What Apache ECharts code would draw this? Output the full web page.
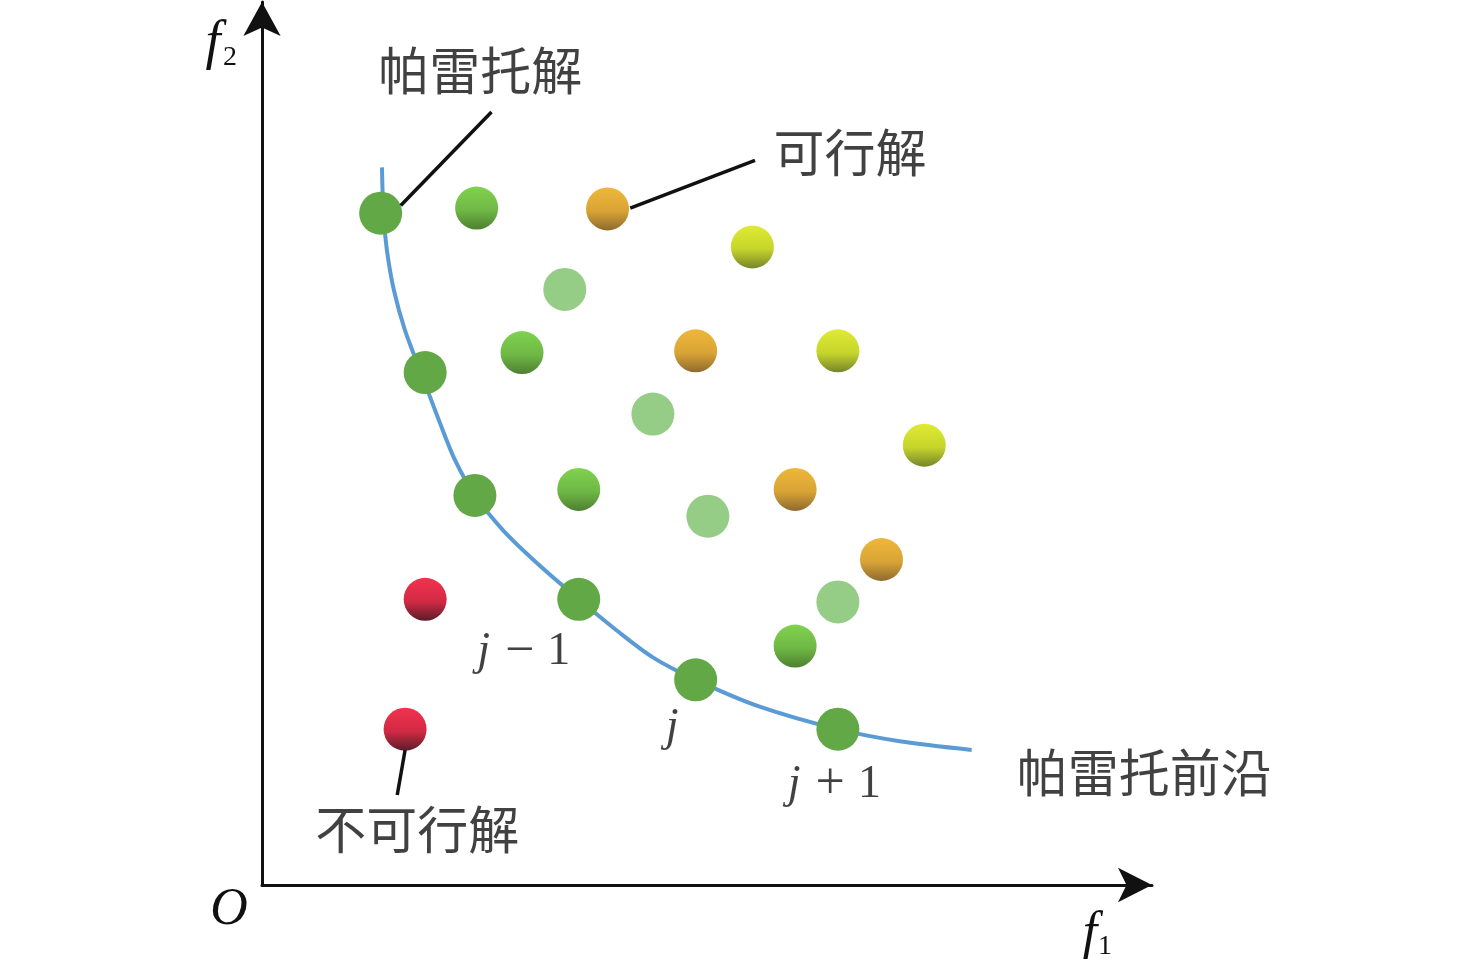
<!DOCTYPE html>
<html>
<head>
<meta charset="utf-8">
<script src="https://cdn.jsdelivr.net/npm/echarts@6/dist/echarts.min.js"></script>
<style>
html,body{margin:0;padding:0;background:#fff;}
#chart{width:1476px;height:974px;}
</style>
</head>
<body>
<div id="chart"></div>
<script>
// ---- data (abstract f1 / f2 units) ----
const axisMax     = 10.2;
const paretoPts   = [[1.36,7.76],[1.87,5.92],[2.44,4.50],[3.63,3.30],[4.97,2.37],[6.60,1.80]];
const greenPts    = [[2.46,7.82],[2.98,6.15],[3.63,4.57],[6.11,2.76]];
const lightPts    = [[3.47,6.88],[4.48,5.44],[5.11,4.26],[6.60,3.27]];
const orangePts   = [[3.96,7.81],[4.97,6.17],[6.11,4.57],[7.10,3.76]];
const yellowPts   = [[5.62,7.37],[6.60,6.17],[7.59,5.08]];
const redPts      = [[1.87,3.30],[1.64,1.80]];
const frontCurve  = [[1.375,8.29],[1.392,7.76],[1.432,7.33],[1.512,6.87],[1.638,6.41],[1.821,5.92],[2.027,5.37],
                     [2.211,4.91],[2.44,4.50],[2.761,4.10],[3.15,3.72],[3.631,3.30],[4.066,2.94],[4.479,2.63],
                     [4.971,2.37],[5.704,2.06],[6.598,1.80],[7.308,1.66],[8.133,1.56]];
const leaderLines = [[[1.59,7.85],[2.63,8.93]],[[4.22,7.82],[5.65,8.37]],[[1.64,1.56],[1.55,1.04]]];
const cnLabels    = [
  {name:'帕雷托解', value:[2.50,9.41]},
  {name:'可行解', value:[6.74,8.46]},
  {name:'帕雷托前沿', value:[10.11,1.30]},
  {name:'不可行解', value:[1.78,0.64]}
];
const mathLabels  = [
  {name:'{i|j}{m|−}{r|1}', value:[3.00,2.69]},
  {name:'{i|j}', value:[4.70,1.82]},
  {name:'{i|j}{m|+}{r|1}', value:[6.56,1.16]}
];

const chart = echarts.init(document.getElementById('chart'));
const G = (a,b,c) => new echarts.graphic.LinearGradient(0,0,0,1,[
  {offset:0,color:a},{offset:0.55,color:b},{offset:1,color:c}]);
const ink = '#111';
const serif = '"Liberation Serif","DejaVu Serif",serif';
const cjk = '"Noto Sans CJK SC","Noto Sans CJK JP",sans-serif';
const dotSize = 43;
function dots(data, color){
  return {type:'scatter', data:data, symbol:'circle', symbolSize:dotSize,
    itemStyle:{color:color, opacity:1}, z:3, silent:true};
}
const mathRich = {
  i:{fontFamily:serif, fontStyle:'italic', fontSize:46, color:ink},
  m:{fontFamily:serif, fontSize:52, color:ink, padding:[0,13,0,15]},
  r:{fontFamily:serif, fontSize:46, color:ink}
};

chart.setOption({
  animation:false,
  backgroundColor:'#fff',
  grid:{left:262, right:324, top:2, bottom:89, containLabel:false},
  xAxis:{type:'value', min:0, max:axisMax, axisTick:{show:false}, axisLabel:{show:false}, splitLine:{show:false},
    axisLine:{show:true, onZero:false, symbol:['none','arrow'], symbolSize:[26,34], lineStyle:{color:ink, width:3}}},
  yAxis:{type:'value', min:0, max:axisMax, axisTick:{show:false}, axisLabel:{show:false}, splitLine:{show:false},
    axisLine:{show:true, onZero:false, symbol:['none','arrow'], symbolSize:[28,34], lineStyle:{color:ink, width:3}}},
  graphic:[
    {type:'text', x:213, y:44, style:{text:'f', font:'italic 54px "Liberation Serif"', fill:ink, textAlign:'center', textVerticalAlign:'middle'}},
    {type:'text', x:230, y:58, style:{text:'2', font:'28px "Liberation Serif"', fill:ink, textAlign:'center', textVerticalAlign:'middle'}},
    {type:'text', x:1090, y:934, style:{text:'f', font:'italic 52px "Liberation Serif"', fill:ink, textAlign:'center', textVerticalAlign:'middle'}},
    {type:'text', x:1105, y:947, style:{text:'1', font:'28px "Liberation Serif"', fill:ink, textAlign:'center', textVerticalAlign:'middle'}},
    {type:'text', x:229, y:910, style:{text:'O', font:'italic 52px "Liberation Serif"', fill:ink, textAlign:'center', textVerticalAlign:'middle'}}
  ],
  series:[
    {type:'line', data:frontCurve, smooth:0.3, symbol:'none', lineStyle:{color:'#5b9bd5', width:4}, z:1, silent:true},
    {type:'lines', coordinateSystem:'cartesian2d', data:leaderLines.map(c=>({coords:c})),
      lineStyle:{color:ink, width:3.5, opacity:1}, z:5, silent:true},
    dots(paretoPts, '#63a846'),
    dots(greenPts, G('#80d24f','#6fb845','#4e7f31')),
    dots(lightPts, '#95cc86'),
    dots(orangePts, G('#eeb73a','#d9a436','#8f6a2f')),
    dots(yellowPts, G('#dfea33','#c6d52c','#76852a')),
    dots(redPts, G('#f2324e','#d22a44','#5a1c28')),
    {type:'scatter', data:cnLabels, symbolSize:1, itemStyle:{color:'rgba(0,0,0,0)'}, clip:false, z:6, silent:true,
      label:{show:true, position:'inside', formatter:'{b}', fontFamily:cjk, fontSize:51, color:ink}},
    {type:'scatter', data:mathLabels, symbolSize:1, itemStyle:{color:'rgba(0,0,0,0)'}, clip:false, z:6, silent:true,
      label:{show:true, position:'inside', formatter:'{b}', rich:mathRich}}
  ]
});
</script>
</body>
</html>
